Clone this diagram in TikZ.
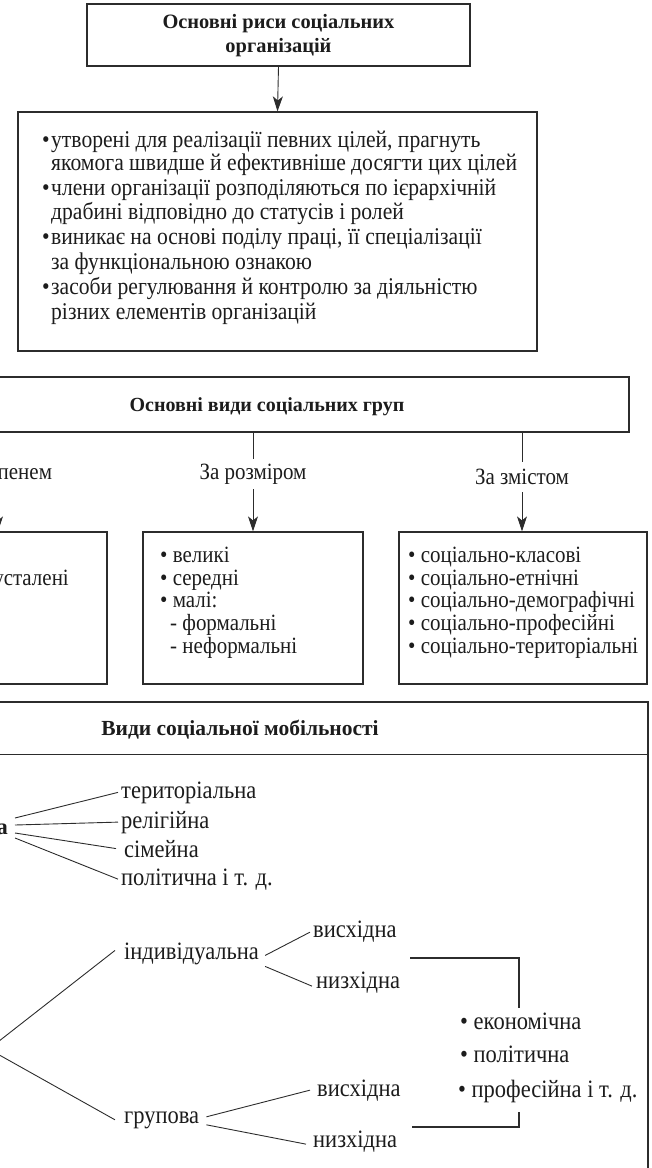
\documentclass[tikz,border=0pt]{standalone}
\usepackage{fontspec}
\setmainfont{Liberation Serif}
\newfontfamily\condfont{Liberation Serif}[FakeStretch=0.9]
\usetikzlibrary{arrows.meta,calc}
\definecolor{ink}{HTML}{1C1C1C}
\definecolor{rulec}{HTML}{2C2C2C}
\begin{document}
\begin{tikzpicture}[x=1pt,y=-1pt,
  box/.style={draw=rulec,line width=1.2pt,inner sep=0pt},
  conn/.style={draw=rulec,line width=0.9pt},
  arr/.style={conn,-{Stealth[length=15pt,width=10pt,inset=4pt]}},
  ttl/.style={inner sep=0pt,text=ink,font=\fontsize{20.4}{24}\bfseries\selectfont,align=center},
  body/.style={inner sep=0pt,text=ink,font=\condfont\fontsize{24}{24}\selectfont,anchor=base west},
  item/.style={inner sep=0pt,text=ink,font=\condfont\fontsize{23.3}{24}\selectfont,anchor=base west},
  lbl/.style={inner sep=0pt,text=ink,font=\condfont\fontsize{23.3}{24}\selectfont,minimum height=30pt},
  mtxt/.style={inner sep=0pt,text=ink,font=\condfont\fontsize{25}{24}\selectfont,anchor=base west}]
\useasboundingbox (0,0) rectangle (652,1168);
\clip (0,0) rectangle (652,1168);

% ---- social organisations
\node[box,minimum width=383pt,minimum height=62pt] (top) at (278.5,35) {};
\node[ttl] (toptitle) at (278.5,36) {Основні риси соціальних\\організацій};
\node[box,minimum width=519pt,minimum height=239pt] (feat) at (277.5,231.5) {};
\draw[arr] (top.south) -- (feat.north);

\node[body] (b1) at (42,147) {•};
\node[body] (l1) at (51,147) {утворені для реалізації певних цілей, прагнуть};
\node[body] (l2) at (51,170) {якомога швидше й ефективніше досягти цих цілей};
\node[body] (b3) at (42,195) {•};
\node[body] (l3) at (51,195) {члени організації розподіляються по ієрархічній};
\node[body] (l4) at (51,219) {драбині відповідно до статусів і ролей};
\node[body] (b5) at (42,244) {•};
\node[body] (l5) at (51,244) {виникає на основі поділу праці, її спеціалізації};
\node[body] (l6) at (51,269) {за функціональною ознакою};
\node[body] (b7) at (42,294) {•};
\node[body] (l7) at (51,294) {засоби регулювання й контролю за діяльністю};
\node[body] (l8) at (51,319) {різних елементів організацій};

% ---- social groups
\node[box,minimum width=1009pt,minimum height=55pt] (grp) at (124.5,404.5) {};
\node[ttl,font=\fontsize{20}{24}\bfseries\selectfont] (grptitle) at (267,407) {Основні види соціальних груп};
\node[lbl] (lab0) at (-2,474) {За ступенем};
\node[lbl] (sz) at (253,474) {За розміром};
\node[lbl] (zm) at (522,477) {За змістом};
\node[box,minimum width=307pt,minimum height=152pt] (lbox) at (-46.5,608) {};
\node[box,minimum width=220pt,minimum height=152pt] (mid) at (253,608) {};
\node[box,minimum width=248pt,minimum height=152pt] (rbx) at (523,608) {};
\draw[conn] (grp.south -| lab0.north) -- (lab0.north);
\draw[conn] (grp.south -| sz.north) -- (sz.north);
\draw[conn] (grp.south -| zm.north) -- (zm.north);
\draw[arr] (lab0.south) -- (lab0.south |- lbox.north);
\draw[arr] (sz.south) -- (sz.south |- mid.north);
\draw[arr] (zm.south) -- (zm.south |- rbx.north);

\node[item,anchor=base east] (ln2) at (69,585) {неусталені};
\node[item] (m1) at (160,562) {• великі};
\node[item] (m2) at (160,585) {• середні};
\node[item] (m3) at (160,607) {• малі:};
\node[item] (m4) at (170,630) {- формальні};
\node[item] (m5) at (170,653) {- неформальні};
\node[item] (r1) at (408,562) {• соціально-класові};
\node[item] (r2) at (408,585) {• соціально-етнічні};
\node[item] (r3) at (408,607) {• соціально-демографічні};
\node[item] (r4) at (408,630) {• соціально-професійні};
\node[item] (r5) at (408,653) {• соціально-територіальні};

% ---- social mobility
\node[box,minimum width=948pt,minimum height=483pt] (mob) at (174,943.5) {};
\draw[box] ($(mob.north west)+(0,53)$) -- ($(mob.north east)+(0,53)$);
\node[ttl,font=\fontsize{21.5}{24}\bfseries\selectfont] (mobtitle) at (240,730) {Види соціальної мобільності};

\node[inner sep=0pt,text=ink,font=\fontsize{22.5}{24}\bfseries\selectfont,anchor=base east] (hor) at (8,834) {Горизонтальна};
\node[mtxt] (ter) at (121,798) {територіальна};
\node[mtxt] (rel) at (121,828) {релігійна};
\node[mtxt] (sim) at (124,857) {сімейна};
\node[mtxt] (pol) at (121,885) {політична і т. д.};
\draw[conn] ($(hor.base east)+(7,-16)$) -- ($(ter.west)+(-3,0)$);
\draw[conn] ($(hor.base east)+(7,-9)$) -- ($(rel.west)+(-3,0)$);
\draw[conn] ($(hor.base east)+(7,-1)$) -- ($(sim.west)+(-8,0)$);
\draw[conn] ($(hor.base east)+(7,4)$) -- ($(pol.west)+(-3,0)$);

\coordinate (v1) at (-6,1045);
\coordinate (v2) at (-6,1052);
\node[mtxt] (ind) at (124,959) {індивідуальна};
\node[mtxt] (vis1) at (313,937) {висхідна};
\node[mtxt] (niz1) at (316,988) {низхідна};
\node[mtxt] (gr) at (124,1123) {групова};
\node[mtxt] (vis2) at (317,1096) {висхідна};
\node[mtxt] (niz2) at (313,1147) {низхідна};
\draw[conn] (v1) -- ($(ind.west)+(-9,-3)$);
\draw[conn] (v2) -- ($(gr.west)+(-9,0)$);
\draw[conn] ($(ind.east)+(6,2)$) -- ($(vis1.west)+(-3,1)$);
\draw[conn] ($(ind.east)+(6,13)$) -- ($(niz1.west)+(-4,4)$);
\draw[conn] ($(gr.east)+(7,-3)$) -- ($(vis2.west)+(-7,0)$);
\draw[conn] ($(gr.east)+(7,5)$) -- ($(niz2.west)+(-7,3)$);

\node[mtxt] (eko) at (460,1029) {• економічна};
\node[mtxt] (pol2) at (460,1062) {• політична};
\node[mtxt] (prof) at (458,1097) {• професійна і т. д.};
\coordinate (k1) at (410,958);
\coordinate (k2) at (519,958);
\coordinate (k3) at (519,1008);
\coordinate (k4) at (519,1112);
\coordinate (k5) at (519,1127);
\coordinate (k6) at (412,1127);
\draw[conn,line width=1.1pt] (k1) -- (k2) -- (k3);
\draw[conn,line width=1.1pt] (k4) -- (k5) -- (k6);
\end{tikzpicture}
\end{document}
